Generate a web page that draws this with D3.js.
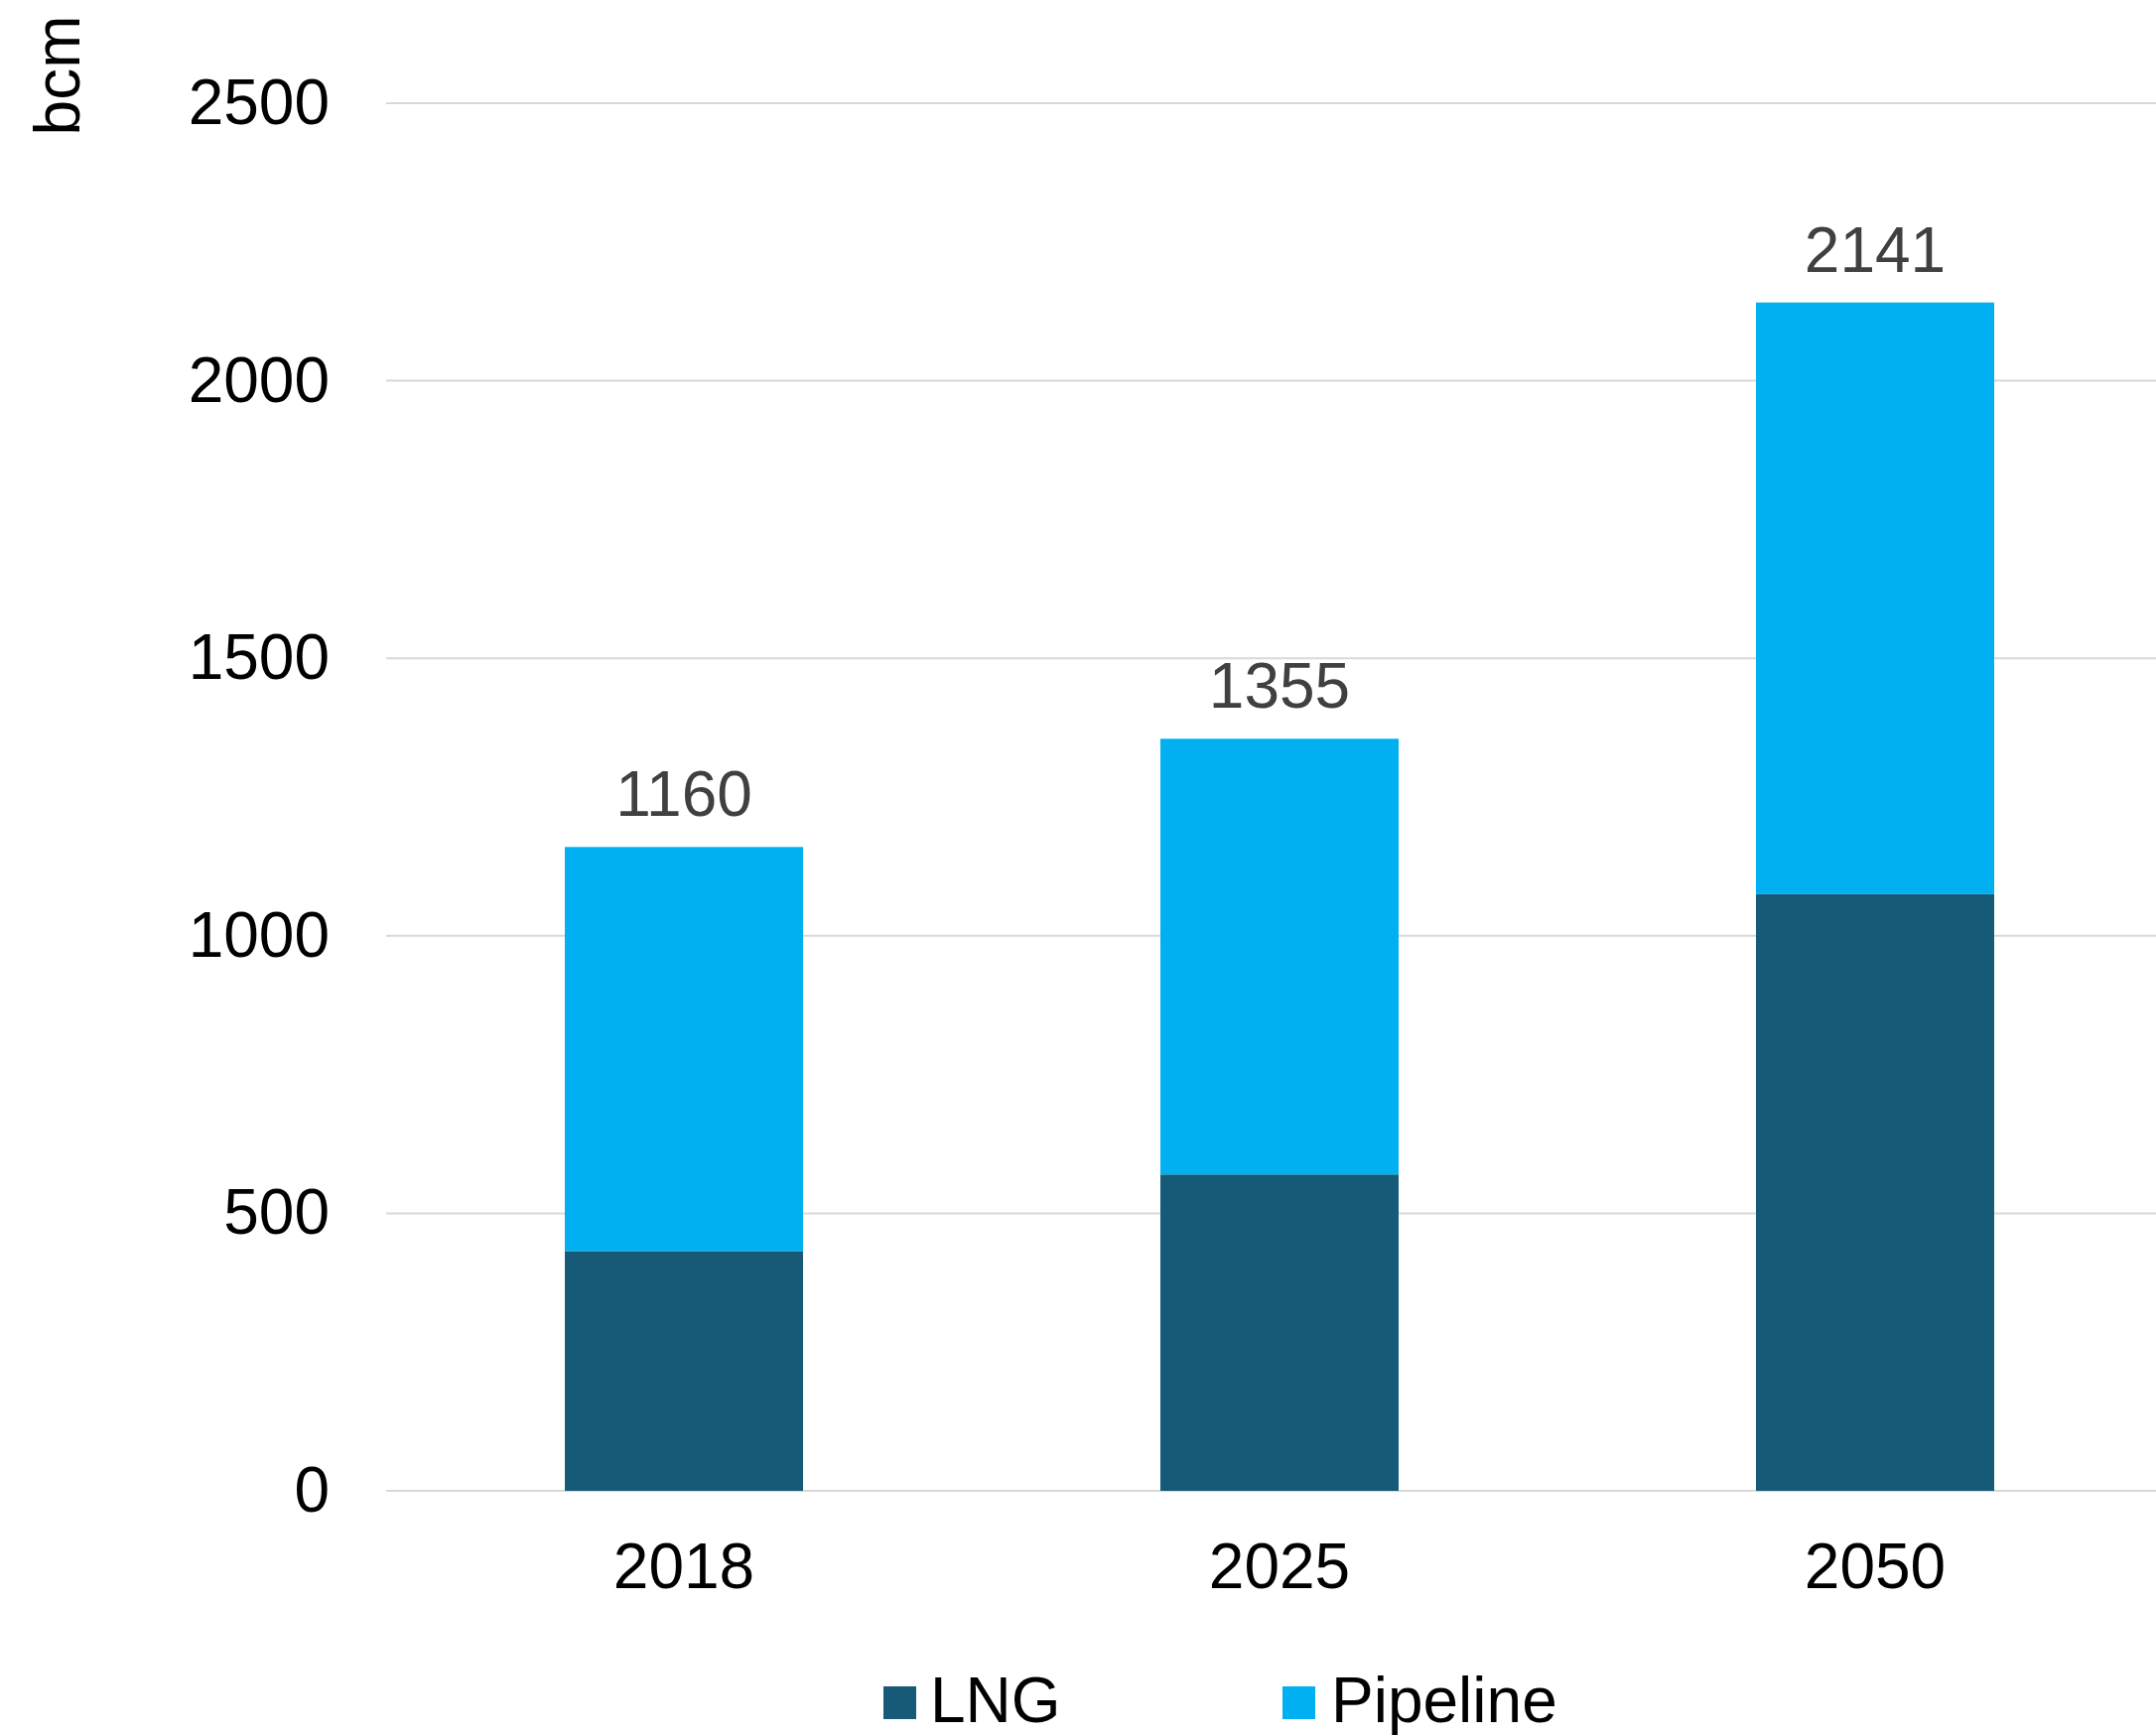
<!DOCTYPE html>
<html>
<head>
<meta charset="utf-8">
<script src="https://cdn.jsdelivr.net/npm/d3@7"></script>
<style>
  html, body { margin: 0; padding: 0; background: #ffffff; }
  svg { display: block; font-family: "Liberation Sans", Arial, sans-serif; }
</style>
</head>
<body>
<svg id="chart" width="2172" height="1749"></svg>
<script>
// Gas trade volumes by transport mode (bcm)
const years = ["2018", "2025", "2050"];
const lng = [432, 570, 1075];
const pipeline = [728, 785, 1066];
const totals = [1160, 1355, 2141];
const seriesNames = ["LNG", "Pipeline"];
const yTicks = [0, 500, 1000, 1500, 2000, 2500];

const colors = { LNG: "#165a78", Pipeline: "#00b0f0" };

const W = 2172, H = 1749;
const plot = { left: 389, right: 2189, top: 104, bottom: 1502 };

const svg = d3.select("#chart");

const x = d3.scaleBand()
  .domain(years)
  .range([plot.left, plot.right])
  .paddingInner(0.6)
  .paddingOuter(0.3);

const y = d3.scaleLinear()
  .domain([0, 2500])
  .range([plot.bottom, plot.top]);

// Stacked rows
const rows = years.map((yr, i) => ({ year: yr, LNG: lng[i], Pipeline: pipeline[i], total: totals[i] }));
const stacked = d3.stack().keys(seriesNames)(rows);

// Gridlines
svg.append("g")
  .selectAll("line")
  .data(yTicks)
  .join("line")
  .attr("x1", plot.left)
  .attr("x2", W)
  .attr("y1", d => y(d))
  .attr("y2", d => y(d))
  .attr("stroke", "#d9d9d9")
  .attr("stroke-width", 2);

// Y axis labels
const yAxis = svg.append("g")
  .attr("transform", `translate(${plot.left - 57},0)`)
  .call(d3.axisLeft(y).tickValues(yTicks).tickSize(0).tickPadding(0).tickFormat(d3.format("d")));
yAxis.select(".domain").remove();
yAxis.selectAll("text")
  .attr("font-size", 64)
  .attr("fill", "#000000")
  .attr("font-family", "Liberation Sans, Arial, sans-serif");

// Bars
svg.append("g")
  .selectAll("g")
  .data(stacked)
  .join("g")
  .attr("fill", d => colors[d.key])
  .selectAll("rect")
  .data(d => d)
  .join("rect")
  .attr("x", d => x(d.data.year))
  .attr("width", x.bandwidth())
  .attr("y", d => y(d[1]))
  .attr("height", d => y(d[0]) - y(d[1]));

// Total labels
svg.append("g")
  .selectAll("text")
  .data(rows)
  .join("text")
  .attr("x", d => x(d.year) + x.bandwidth() / 2)
  .attr("y", d => y(d.total) - 31)
  .attr("text-anchor", "middle")
  .attr("font-size", 64)
  .attr("fill", "#404040")
  .text(d => d.total);

// X axis labels
const xAxis = svg.append("g")
  .attr("transform", `translate(0,${plot.bottom})`)
  .call(d3.axisBottom(x).tickSize(0).tickPadding(0));
xAxis.select(".domain").remove();
xAxis.selectAll("text")
  .attr("dy", null)
  .attr("y", 98)
  .attr("font-size", 64)
  .attr("fill", "#000000")
  .attr("font-family", "Liberation Sans, Arial, sans-serif");

// Unit label
svg.append("text")
  .attr("transform", "translate(80,76) rotate(-90)")
  .attr("text-anchor", "middle")
  .attr("font-size", 64)
  .attr("fill", "#000000")
  .text("bcm");

// Legend
const legendX = [890, 1292];
const legend = svg.append("g")
  .selectAll("g")
  .data(seriesNames)
  .join("g")
  .attr("transform", (d, i) => `translate(${legendX[i]},1699)`);
legend.append("rect")
  .attr("width", 33)
  .attr("height", 33)
  .attr("fill", d => colors[d]);
legend.append("text")
  .attr("x", (d, i) => i === 0 ? 47 : 49)
  .attr("y", 36)
  .attr("font-size", 64)
  .attr("fill", "#000000")
  .text(d => d);
</script>
</body>
</html>
